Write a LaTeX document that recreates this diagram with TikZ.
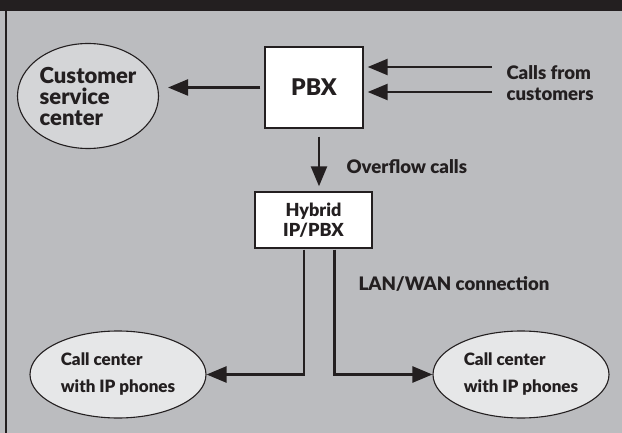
\documentclass[tikz,border=0pt]{standalone}
\usepackage{fontspec}
\setmainfont{Lato}[BoldFont={Lato Black}]
\usetikzlibrary{arrows.meta,shapes.geometric}

\definecolor{bandgray}{HTML}{231F20}
\definecolor{bggray}{HTML}{BBBCBF}
\definecolor{custgray}{HTML}{D4D5D7}
\definecolor{ccgray}{HTML}{E6E7E8}

\tikzset{
  txt/.style={font=\bfseries\fontsize{18.6}{20.5}\selectfont, text=bandgray},
  bigtxt/.style={font=\bfseries\fontsize{22}{21}\selectfont, text=bandgray},
  cctxt/.style={font=\bfseries\fontsize{17}{20}\selectfont, text=bandgray},
  boxnode/.style={draw=bandgray, line width=1.4pt, fill=white, align=center, txt},
  ovalnode/.style={ellipse, draw=bandgray, line width=1.1pt, align=left, txt, inner sep=0pt},
  arr/.style={draw=bandgray, line width=2.4pt, -{Triangle[length=20pt,width=16pt]}}
}

\begin{document}
\begin{tikzpicture}[x=1pt,y=-1pt]

    % frame
    \useasboundingbox (0,0) rectangle (622,433);
    \fill[bggray] (0,0) rectangle (622,433);
    \fill[bandgray] (0,0) rectangle (622,11);
    \draw[bandgray, line width=2pt] (6,11) -- (6,433);

    % boxes
    \node[boxnode, font=\bfseries\fontsize{23}{21}\selectfont, minimum width=98pt, minimum height=81pt] (pbx) at (314,87.5) {PBX};
    \node[boxnode, font=\bfseries\fontsize{18}{20}\selectfont, minimum width=117pt, minimum height=56pt] (hybrid) at (313.5,220) {Hybrid\\IP/PBX};

    % ovals
    \node[ovalnode, bigtxt, fill=custgray, minimum width=141pt, minimum height=105pt] (custsvc) at (88,96) {Customer\\service\\center};
    \node[ovalnode, cctxt, fill=ccgray, minimum width=176pt, minimum height=87pt] (ccleft) at (118,374.5) {Call center\\[7pt]with IP phones};
    \node[ovalnode, cctxt, fill=ccgray, minimum width=176pt, minimum height=87pt] (ccright) at (521,374.5) {Call center\\[7pt]with IP phones};

    % labels
    \node[txt, anchor=west, align=left] (callslbl) at (503,83) {Calls from\\customers};
    \node[txt, anchor=west] (overlbl) at (343,167) {Overflow calls};
    \node[txt, anchor=west] (lanlbl) at (355,284) {LAN/WAN connection};

    % incoming calls
    \coordinate (in1) at (492,67);
    \coordinate (in2) at (492,92);
    \draw[arr, shorten >=4pt] (in1) -- (in1 -| pbx.east);
    \draw[arr, shorten >=4pt] (in2) -- (in2 -| pbx.east);

    % pbx to customer service
    \draw[arr, shorten <=4pt, shorten >=9pt] (pbx.west) -- (custsvc.east |- pbx.west);

    % overflow
    \draw[arr, shorten <=8pt, shorten >=5pt] ([xshift=5pt]pbx.south) -- ([xshift=5pt]pbx.south |- hybrid.north);

    % lan/wan
    \draw[arr, shorten <=1pt] ([xshift=-9.5pt]hybrid.south) |- (ccleft.east);
    \draw[arr, shorten <=1pt] ([xshift=21pt]hybrid.south) |- (ccright.west);

\end{tikzpicture}
\end{document}
